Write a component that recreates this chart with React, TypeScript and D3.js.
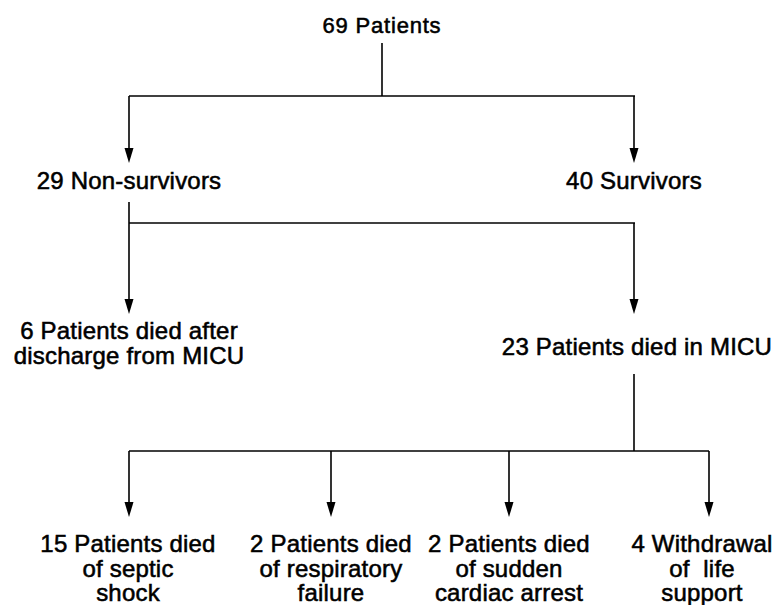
import React from "react";
import * as d3 from "d3";

// node labels, one array per level of the flow chart
const rootLabel = ["69 Patients"];
const outcomeLabels = [["29 Non-survivors"], ["40 Survivors"]];
const timingLabels = [
  ["6 Patients died after", "discharge from MICU"],
  ["23 Patients died in MICU"],
];
const causeLabels = [
  ["15 Patients died", "of septic", "shock"],
  ["2 Patients died", "of respiratory", "failure"],
  ["2 Patients died", "of sudden", "cardiac arrest"],
  ["4 Withdrawal", "of  life", "support"],
];

const width = 784;
const height = 605;
const font = "'Liberation Sans', Arial, Helvetica, sans-serif";

// layout (pixels)
const colX = { root: 382, left: 129, right: 634 };
const causeX = [129, 331, 509, 709];
const causeTextX = [128, 331, 509, 702];
const rowY = {
  rootText: 33,
  bar1: 96,
  tip1: 163,
  outcomeText: 189,
  stem2: 202,
  bar2: 223,
  tip2: 314,
  timingText: 339,
  micuText: 355,
  stem3: 374,
  bar3: 451,
  tip3: 517,
  causeText: 552,
};
const lineGap = 24.5;

const line = d3.line<[number, number]>();

function arrowHead(x: number, tip: number) {
  const p = d3.path();
  p.moveTo(x - 4.5, tip - 15);
  p.lineTo(x + 4.5, tip - 15);
  p.lineTo(x, tip);
  p.closePath();
  return p.toString();
}

function Arrow({ x, y0, tip }: { x: number; y0: number; tip: number }) {
  return (
    <g>
      <path d={line([[x, y0], [x, tip - 10]]) || ""} stroke="#000" strokeWidth={1.6} fill="none" />
      <path d={arrowHead(x, tip)} fill="#000" />
    </g>
  );
}

function Label({
  x,
  y,
  lines,
  size = 24,
  spacing = 0.2,
}: {
  x: number;
  y: number;
  lines: string[];
  size?: number;
  spacing?: number;
}) {
  return (
    <text
      x={x}
      y={y}
      textAnchor="middle"
      fontFamily={font}
      fontSize={size}
      letterSpacing={spacing}
      fill="#000"
      stroke="#000"
      strokeWidth={0.55}
      style={{ whiteSpace: "pre" }}
    >
      {lines.map((l, i) => (
        <tspan key={i} x={x} dy={i === 0 ? 0 : lineGap}>
          {l}
        </tspan>
      ))}
    </text>
  );
}

export default function App() {
  const stroke = { stroke: "#000", strokeWidth: 1.6, fill: "none" };
  const outX = [colX.left, colX.right];
  return (
    <svg
      width={width}
      height={height}
      viewBox={`0 0 ${width} ${height}`}
      style={{ position: "absolute", left: 0, top: 0, background: "#fff" }}
    >
      {/* level 0 */}
      <Label x={colX.root} y={rowY.rootText} lines={rootLabel} size={22} spacing={0.8} />
      <path d={line([[colX.root, 43], [colX.root, rowY.bar1]]) || ""} {...stroke} />
      <path d={line([[colX.left, rowY.bar1], [colX.right + 1, rowY.bar1]]) || ""} {...stroke} />
      {outX.map((x, i) => (
        <Arrow key={i} x={x} y0={rowY.bar1} tip={rowY.tip1} />
      ))}
      {outcomeLabels.map((l, i) => (
        <Label key={i} x={outX[i]} y={rowY.outcomeText} lines={l} />
      ))}

      {/* level 1: non-survivors */}
      <Arrow x={colX.left} y0={rowY.stem2} tip={rowY.tip2} />
      <path d={line([[colX.left, rowY.bar2], [colX.right + 1, rowY.bar2]]) || ""} {...stroke} />
      <Arrow x={colX.right} y0={rowY.bar2} tip={rowY.tip2} />
      <Label x={colX.left} y={rowY.timingText} lines={timingLabels[0]} />
      <Label x={colX.right + 3} y={rowY.micuText} lines={timingLabels[1]} />

      {/* level 2: causes of death in MICU */}
      <path d={line([[colX.right, rowY.stem3], [colX.right, rowY.bar3]]) || ""} {...stroke} />
      <path
        d={line([[causeX[0], rowY.bar3], [causeX[causeX.length - 1], rowY.bar3]]) || ""}
        {...stroke}
      />
      {causeX.map((x, i) => (
        <Arrow key={i} x={x} y0={rowY.bar3} tip={rowY.tip3} />
      ))}
      {causeLabels.map((l, i) => (
        <Label key={i} x={causeTextX[i]} y={rowY.causeText} lines={l} />
      ))}
    </svg>
  );
}
